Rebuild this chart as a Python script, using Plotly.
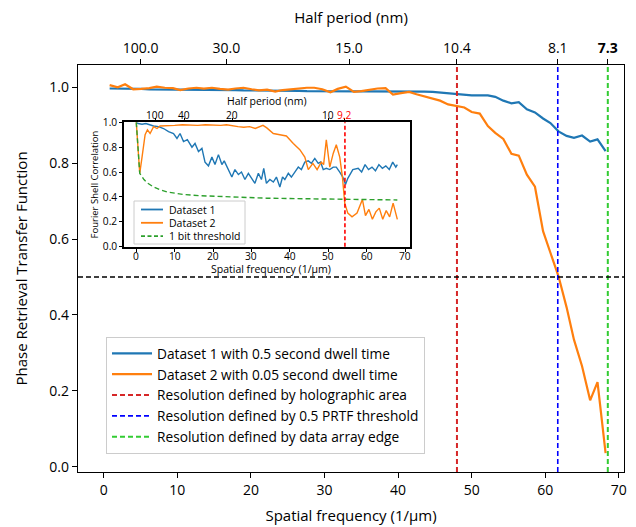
import plotly.graph_objects as go

# ---------------- main PRTF data ----------------
main_freq = [0.8, 1.9, 2.9, 4.0, 5.1, 6.2, 7.2, 8.3, 9.4, 10.4, 11.5, 12.6, 13.6, 14.7, 15.8, 16.9,
             17.9, 19.0, 20.1, 21.1, 22.2, 23.3, 24.3, 25.4, 26.5, 27.6, 28.6, 29.7, 30.8, 31.8, 32.9,
             34.0, 35.0, 36.1, 37.2, 38.3, 39.3, 40.4, 41.5, 42.5, 43.6, 44.7, 45.7, 46.8, 47.9, 49.0,
             50.0, 51.1, 52.2, 53.2, 54.3, 55.4, 56.4, 57.5, 58.6, 59.7, 60.7, 61.8, 62.9, 63.9, 65.0,
             66.1, 67.1, 68.2]
prtf_ds1 = [0.997, 0.997, 0.996, 0.996, 0.996, 0.995, 0.995, 0.995, 0.995, 0.994, 0.994, 0.994, 0.994,
            0.993, 0.993, 0.993, 0.993, 0.992, 0.992, 0.992, 0.992, 0.991, 0.991, 0.991, 0.991, 0.990,
            0.990, 0.990, 0.990, 0.990, 0.990, 0.989, 0.989, 0.989, 0.989, 0.990, 0.990, 0.990, 0.990,
            0.990, 0.989, 0.988, 0.986, 0.984, 0.982, 0.980, 0.979, 0.979, 0.979, 0.975, 0.965, 0.958,
            0.961, 0.942, 0.934, 0.918, 0.906, 0.884, 0.872, 0.867, 0.873, 0.857, 0.863, 0.832]
prtf_ds2 = [1.006, 1.000, 1.008, 0.995, 0.996, 0.998, 1.002, 0.999, 0.998, 0.993, 0.997, 0.999, 0.997,
            0.999, 0.996, 0.994, 0.997, 0.999, 0.995, 0.992, 0.994, 0.989, 0.993, 0.995, 0.998, 0.999,
            0.999, 0.995, 0.987, 0.996, 1.002, 0.988, 0.990, 0.993, 0.997, 0.998, 0.981, 0.985, 0.988,
            0.982, 0.976, 0.969, 0.965, 0.955, 0.952, 0.947, 0.935, 0.931, 0.898, 0.880, 0.864, 0.825,
            0.820, 0.770, 0.738, 0.621, 0.564, 0.502, 0.420, 0.335, 0.265, 0.175, 0.223, 0.036]

res_freqs = [48.0, 61.7, 68.5]
res_names = ["Resolution defined by holographic area",
             "Resolution defined by 0.5 PRTF threshold",
             "Resolution defined by data array edge"]
prtf_threshold = 0.5

top_tick_freqs = [5.0, 16.67, 33.33, 48.0, 61.7, 68.5]
top_tick_labels = ["100.0", "30.0", "15.0", "10.4", "8.1", "<b>7.3</b>"]

# ---------------- inset FSC data ----------------
fsc1_freq = [0, 0.5, 1.5, 2.5, 3.5, 4.5, 5.8, 7.1, 8.4, 9.7, 10.6, 11.4, 12.3, 13.3, 14.5, 15.3, 16.2,
             17.1, 17.9, 18.8, 19.7, 20.5, 21.4, 22.3, 22.9, 24.0, 24.9, 25.7, 26.6, 27.4, 28.3, 29.2,
             30.0, 30.9, 31.8, 32.6, 33.2, 33.9, 34.8, 35.7, 36.5, 37.4, 38.1, 38.7, 39.6, 40.4, 41.3,
             42.2, 43.0, 43.9, 44.8, 45.6, 46.5, 47.4, 48.0, 48.7, 49.5, 50.4, 51.3, 52.1, 53.0, 53.8,
             54.5, 55.1, 56.4, 57.8, 58.7, 59.6, 60.5, 61.4, 62.3, 63.2, 64.1, 65.0, 65.9, 66.8, 67.6, 68.0]
fsc1_vals = [1.0, 0.99, 0.985, 0.99, 0.98, 0.97, 0.965, 0.95, 0.925, 0.91, 0.87, 0.91, 0.845, 0.86, 0.80,
             0.83, 0.765, 0.79, 0.68, 0.65, 0.72, 0.66, 0.74, 0.66, 0.69, 0.62, 0.56, 0.62, 0.58, 0.60,
             0.54, 0.59, 0.55, 0.51, 0.59, 0.54, 0.63, 0.51, 0.54, 0.52, 0.56, 0.48, 0.56, 0.54, 0.59,
             0.56, 0.60, 0.64, 0.62, 0.68, 0.69, 0.67, 0.71, 0.67, 0.68, 0.62, 0.63, 0.62, 0.64, 0.64,
             0.60, 0.56, 0.50, 0.55, 0.62, 0.63, 0.60, 0.66, 0.62, 0.64, 0.61, 0.66, 0.63, 0.65, 0.62,
             0.68, 0.64, 0.66]
fsc2_freq = [0, 0.5, 0.9, 1.5, 2.3, 2.9, 3.6, 4.5, 5.4, 6.2, 8, 10, 12, 14, 16, 18, 20, 22, 23.5, 25,
             26.5, 28, 29.5, 31, 32, 33, 34, 35.7, 37.4, 39.1, 40.9, 42.6, 43.9, 44.8, 46.0, 47.1, 48.2,
             48.8, 49.5, 50.4, 51.3, 52.1, 53.0, 53.7, 54.3, 55.1, 56.2, 57.5, 58.9, 59.7, 60.6, 61.5,
             62.4, 63.3, 64.2, 65.1, 66.0, 66.9, 68.0]
fsc2_vals = [1.0, 0.80, 0.59, 0.72, 0.90, 0.94, 0.91, 0.965, 0.95, 0.97, 0.975, 0.975, 0.98, 0.975,
             0.975, 0.98, 0.975, 0.975, 0.98, 0.97, 0.965, 0.96, 0.965, 0.95, 0.965, 0.975, 0.955, 0.91,
             0.90, 0.89, 0.83, 0.78, 0.72, 0.62, 0.67, 0.62, 0.68, 0.66, 0.86, 0.64, 0.75, 0.82, 0.72,
             0.56, 0.35, 0.27, 0.24, 0.27, 0.38, 0.25, 0.30, 0.22, 0.28, 0.31, 0.22, 0.29, 0.24, 0.35, 0.22]
bit_freq = [0, 0.5, 0.9, 2, 3, 4.5, 6, 8, 10, 12.3, 16.6, 20, 25, 30, 34, 40, 45, 50, 54, 60, 68]
bit_vals = [1.0, 0.72, 0.59, 0.54, 0.51, 0.48, 0.46, 0.44, 0.43, 0.42, 0.41, 0.405, 0.40, 0.395, 0.39,
            0.387, 0.385, 0.382, 0.38, 0.378, 0.376]
inset_res_freq = 54.35
inset_bottom_ticks = [0, 10, 20, 30, 40, 50, 60, 70]
inset_top_freqs = [5.0, 12.5, 25.0, 50.0, 54.35]
inset_top_labels = ["100", "40", "20", "10", "9.2"]
inset_top_colors = ["black", "black", "black", "black", "red"]
inset_names = ["Dataset 1", "Dataset 2", "1 bit threshold"]

BLUE = "#1f77b4"
ORANGE = "#ff7f0e"
GREEN_T = "#2ca02c"
res_colors = ["#d62728", "#0000ff", "#33cc33"]
FONT = "Open Sans"

# plot area in pixels (for converting pixel positions of the inset / its legend to paper coords)
L, R, T, B = 78, 624, 65, 472
def px(x):
    return (x - L) / (R - L)
def py(y):
    return (B - y) / (B - T)

IN_L, IN_R, IN_T, IN_B = 124, 410, 122.3, 246.7
IN_FS = 10.2

fig = go.Figure()

fig.add_trace(go.Scatter(x=main_freq, y=prtf_ds1, mode="lines", line=dict(color=BLUE, width=2.2),
                         name="Dataset 1 with 0.5 second dwell time", legend="legend", legendrank=1))
fig.add_trace(go.Scatter(x=main_freq, y=prtf_ds2, mode="lines", line=dict(color=ORANGE, width=2.2),
                         name="Dataset 2 with 0.05 second dwell time", legend="legend", legendrank=2))
# invisible carrier so the top axis is drawn
fig.add_trace(go.Scatter(x=main_freq, y=prtf_ds1, mode="lines", xaxis="x2", yaxis="y",
                         line=dict(color="rgba(0,0,0,0)"), showlegend=False, hoverinfo="skip"))

fig.add_trace(go.Scatter(x=fsc1_freq, y=fsc1_vals, mode="lines", line=dict(color=BLUE, width=1.4),
                         name=inset_names[0], xaxis="x3", yaxis="y3", showlegend=False))
fig.add_trace(go.Scatter(x=fsc2_freq, y=fsc2_vals, mode="lines", line=dict(color=ORANGE, width=1.4),
                         name=inset_names[1], xaxis="x3", yaxis="y3", showlegend=False))
fig.add_trace(go.Scatter(x=bit_freq, y=bit_vals, mode="lines",
                         line=dict(color=GREEN_T, width=1.4, dash="5px,3px"),
                         name=inset_names[2], xaxis="x3", yaxis="y3", showlegend=False))
fig.add_trace(go.Scatter(x=fsc1_freq, y=fsc1_vals, mode="lines", xaxis="x4", yaxis="y3",
                         line=dict(color="rgba(0,0,0,0)"), showlegend=False, hoverinfo="skip"))

shapes = []
for i, (f, c, n) in enumerate(zip(res_freqs, res_colors, res_names)):
    shapes.append(dict(type="line", xref="x", yref="y domain", x0=f, x1=f, y0=0, y1=1,
                       line=dict(color=c, width=2 if i != 1 else 1.6, dash="5px,3px"),
                       showlegend=True, name=n, legend="legend", legendrank=3 + i))
shapes.append(dict(type="line", xref="x domain", yref="y", x0=0, x1=1, y0=prtf_threshold,
                   y1=prtf_threshold, line=dict(color="black", width=1.5, dash="5px,3px")))
shapes.append(dict(type="line", xref="x3", yref="y3 domain", x0=inset_res_freq, x1=inset_res_freq,
                   y0=0, y1=1, line=dict(color="red", width=1.6, dash="4px,2.5px")))

annotations = []
# inset axis titles
annotations.append(dict(text="Half period (nm)", xref="paper", yref="paper", x=px(267), y=py(101),
                        xanchor="center", yanchor="middle", showarrow=False, font=dict(size=10.5)))
annotations.append(dict(text="Spatial frequency (1/µm)", xref="paper", yref="paper", x=px(271),
                        y=py(269), xanchor="center", yanchor="middle", showarrow=False,
                        font=dict(size=10.5)))
# inset tick labels
for t in inset_bottom_ticks:
    annotations.append(dict(text=str(t), xref="x3", yref="paper", x=t, y=py(255.5), xanchor="center",
                            yanchor="middle", showarrow=False, font=dict(size=IN_FS)))
for t, lab, col in zip(inset_top_freqs, inset_top_labels, inset_top_colors):
    annotations.append(dict(text=lab, xref="x3", yref="paper", x=t, y=py(115), xanchor="center",
                            yanchor="middle", showarrow=False, font=dict(size=IN_FS, color=col)))

# hand-built compact legend for the inset
shapes.append(dict(type="rect", xref="paper", yref="paper", x0=px(134), x1=px(245), y0=py(244),
                   y1=py(201), line=dict(color="#cccccc", width=1), fillcolor="white", layer="above"))
inset_styles = [dict(color=BLUE, width=1.8), dict(color=ORANGE, width=1.8),
                dict(color=GREEN_T, width=1.8, dash="4px,2.5px")]
for k, (nm, st) in enumerate(zip(inset_names, inset_styles)):
    yy = 209.5 + k * 13.3
    shapes.append(dict(type="line", xref="paper", yref="paper", x0=px(141), x1=px(163), y0=py(yy),
                       y1=py(yy), line=st, layer="above"))
    annotations.append(dict(text=nm, xref="paper", yref="paper", x=px(166.5), y=py(yy), xanchor="left",
                            yanchor="middle", showarrow=False, font=dict(size=10.5)))

fig.update_layout(shapes=shapes, annotations=annotations)

xr = [-3.5, 70.7]
xr_in = [-3.2, 71.3]
ax_common = dict(showline=True, linecolor="black", linewidth=1.4, ticks="outside", ticklen=5,
                 tickwidth=1.2, tickcolor="black", showgrid=False, zeroline=False, automargin=False)
in_common = {**ax_common, "ticklen": 3, "linewidth": 1.6}
fig.update_layout(
    width=636, height=527,
    margin=dict(l=L, r=636 - R, t=T, b=527 - B),
    plot_bgcolor="white", paper_bgcolor="white",
    font=dict(family=FONT, size=14, color="black"),
    xaxis=dict(range=xr, dtick=10, mirror=True, domain=[0, 1],
               title=dict(text="Spatial frequency (1/µm)", font=dict(size=15), standoff=12),
               tickfont=dict(size=14), **ax_common),
    xaxis2=dict(range=xr, overlaying="x", side="top", anchor="y", tickmode="array",
                tickvals=top_tick_freqs, ticktext=top_tick_labels,
                title=dict(text="Half period (nm)", font=dict(size=15), standoff=10),
                tickfont=dict(size=14), **ax_common),
    yaxis=dict(range=[-0.014, 1.059], dtick=0.2, tickformat=".1f", mirror=True, domain=[0, 1],
               title=dict(text="Phase Retrieval Transfer Function", font=dict(size=15), standoff=18),
               tickfont=dict(size=14), **ax_common),
    xaxis3=dict(domain=[px(IN_L), px(IN_R)], anchor="y3", range=xr_in, tickmode="array",
                tickvals=inset_bottom_ticks, showticklabels=False, mirror=True, **in_common),
    xaxis4=dict(domain=[px(IN_L), px(IN_R)], anchor="y3", overlaying="x3", side="top", range=xr_in,
                tickmode="array", tickvals=inset_top_freqs, showticklabels=False, **in_common),
    yaxis3=dict(domain=[py(IN_B), py(IN_T)], anchor="x3", range=[0, 1], dtick=0.2, tickformat=".1f",
                mirror=True, title=dict(text="Fourier Shell Correlation", font=dict(size=9.5), standoff=3),
                tickfont=dict(size=IN_FS), **in_common),
    legend=dict(x=px(106), y=py(337), xanchor="left", yanchor="top", bgcolor="white",
                bordercolor="#cccccc", borderwidth=1, font=dict(size=13.7), itemwidth=40,
                tracegroupgap=0),
)

fig.write_html("out.html", config={"displayModeBar": False},
               post_script="document.body.style.margin='0px';")
